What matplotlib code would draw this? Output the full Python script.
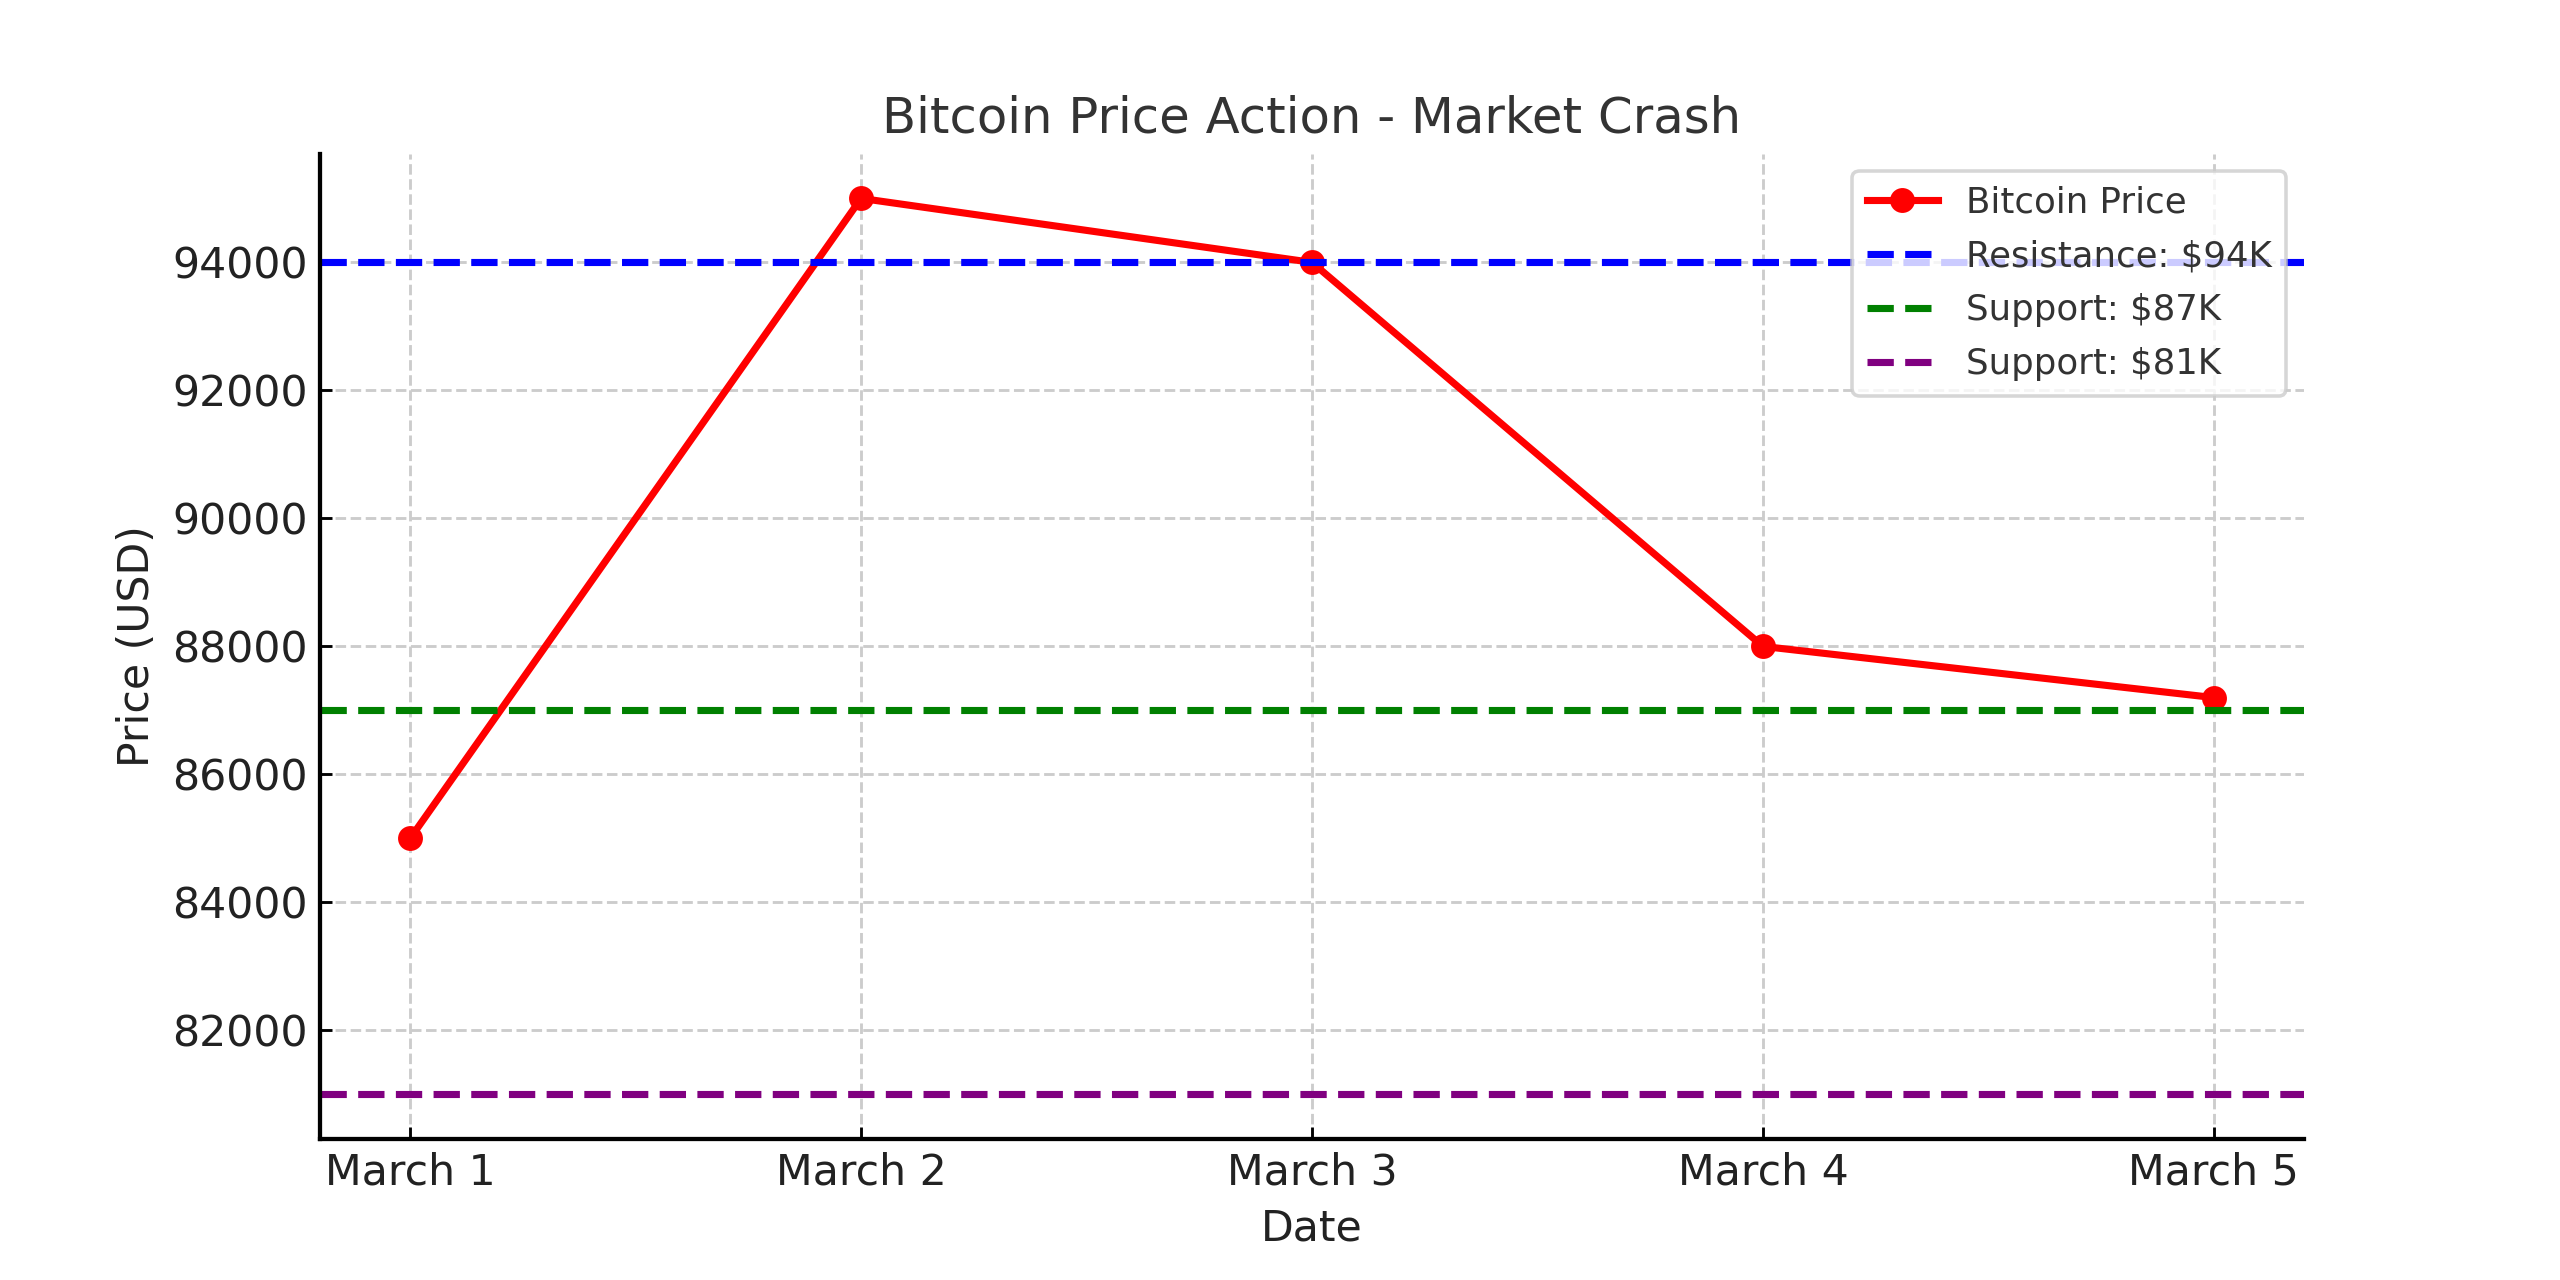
import matplotlib.pyplot as plt

# Data
dates = ["March 1", "March 2", "March 3", "March 4", "March 5"]
prices = [85000, 95000, 94000, 88000, 87200]
levels = [94000, 87000, 81000]
level_labels = ["Resistance: $94K", "Support: $87K", "Support: $81K"]
level_colors = ["blue", "green", "purple"]

plt.rcParams['font.family'] = ['DejaVu Sans']

fig, ax = plt.subplots(figsize=(10, 5), dpi=256)

ax.plot(dates, prices, marker='o', color='red', linewidth=2, markersize=6,
        label='Bitcoin Price')
for lvl, lab, col in zip(levels, level_labels, level_colors):
    ax.axhline(lvl, color=col, linestyle='--', linewidth=2, label=lab)

ax.set_title("Bitcoin Price Action - Market Crash", fontsize=14, color='#333333')
ax.set_xlabel("Date", fontsize=12, color='#222222')
ax.set_ylabel("Price (USD)", fontsize=12, color='#222222')
ax.tick_params(labelsize=12, labelcolor='#222222', direction='in', length=3.5)

ax.grid(True, linestyle='--', color='#cccccc', linewidth=0.8)
ax.spines['top'].set_visible(False)
ax.spines['right'].set_visible(False)
ax.spines['left'].set_linewidth(1.2)
ax.spines['bottom'].set_linewidth(1.2)

leg = ax.legend(loc='upper right', fontsize=10, framealpha=0.8, labelspacing=0.56,
                edgecolor='#cccccc', labelcolor='#333333')

plt.savefig("out.png")
